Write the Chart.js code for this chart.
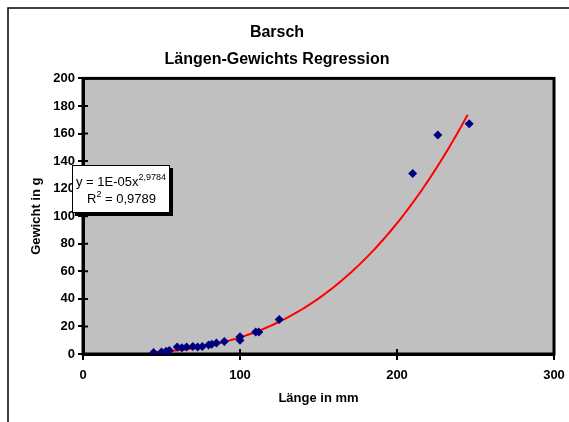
<!DOCTYPE html>
<html>
<head>
<meta charset="utf-8">
<script src="https://cdn.jsdelivr.net/npm/chart.js@4"></script>
<style>
  html, body { margin:0; padding:0; background:#fff; }
  #wrap { width:569px; height:422px; }
</style>
</head>
<body>
<div id="wrap"><canvas id="scatterChart" width="569" height="422"></canvas></div>
<script>
// === Daten ===
const lengthMm = [45, 50, 53, 55, 60, 63, 66, 70, 73, 76, 80, 82, 85, 90, 100, 100, 110, 112, 125, 210, 226, 246];
const weightG  = [1, 1.5, 2, 2.5, 5, 4.5, 5, 5.5, 5, 5.5, 6.5, 7, 8, 9, 12.5, 10, 16, 16, 25, 131, 159, 167];
const xTicks = [0, 100, 200, 300];
const yTicks = [0, 20, 40, 60, 80, 100, 120, 140, 160, 180, 200];

// Potenz-Trendlinie y = a * x^b (a im Label auf 1E-05 gerundet)
const trendA = 1.33e-5;
const trendB = 2.9784;
const trendText1 = 'y = 1E-05x';
const trendSup = '2,9784';
const trendText2 = 'R';
const trendText2b = ' = 0,9789';

const points = lengthMm.map((x, i) => ({ x: x, y: weightG[i] }));
const xMin = Math.min(...lengthMm), xMax = Math.max(...lengthMm);
const trend = [];
for (let x = xMin; x <= xMax; x += 2) trend.push({ x: x, y: trendA * Math.pow(x, trendB) });

const FONT = 'Liberation Sans, Arial, sans-serif';

// Hintergrund, Rahmen, Gleichungsbox
const deco = {
  id: 'deco',
  beforeDraw(chart) {
    const { ctx, chartArea: a } = chart;
    ctx.save();
    ctx.fillStyle = '#fff';
    ctx.fillRect(0, 0, chart.width, chart.height);
    ctx.strokeStyle = '#000';
    ctx.lineWidth = 1.5;
    ctx.beginPath();
    ctx.moveTo(8, chart.height); ctx.lineTo(8, 8); ctx.lineTo(chart.width, 8);
    ctx.stroke();
    ctx.fillStyle = '#c0c0c0';
    ctx.fillRect(a.left, a.top, a.right - a.left, a.bottom - a.top);
    ctx.restore();
  },
  beforeDatasetsDraw(chart) {
    const { ctx, chartArea: a, scales } = chart;
    ctx.save();
    ctx.strokeStyle = '#000';
    ctx.lineWidth = 3;
    ctx.strokeRect(a.left, a.top, a.right - a.left, a.bottom - a.top);
    // kurze Teilstriche nach innen
    ctx.lineWidth = 2;
    ctx.beginPath();
    yTicks.forEach(v => {
      const y = scales.y.getPixelForValue(v);
      ctx.moveTo(a.left, y); ctx.lineTo(a.left + 5, y);
    });
    xTicks.forEach(v => {
      const x = scales.x.getPixelForValue(v);
      ctx.moveTo(x, a.bottom); ctx.lineTo(x, a.bottom - 5);
    });
    ctx.stroke();
    ctx.restore();
  },
  afterDraw(chart) {
    const ctx = chart.ctx;
    ctx.save();
    ctx.fillStyle = '#000';
    ctx.fillRect(75, 168, 98, 48);
    ctx.fillStyle = '#fff';
    ctx.fillRect(72, 165, 98, 48);
    ctx.strokeStyle = '#000';
    ctx.lineWidth = 1;
    ctx.strokeRect(72.5, 165.5, 97, 47);
    ctx.fillStyle = '#000';
    ctx.textBaseline = 'alphabetic';
    ctx.font = '13px ' + FONT;
    ctx.fillText(trendText1, 76, 186);
    let w = ctx.measureText(trendText1).width;
    ctx.font = '9px ' + FONT;
    ctx.fillText(trendSup, 76 + w, 180);
    ctx.font = '13px ' + FONT;
    ctx.fillText(trendText2, 87, 203);
    w = ctx.measureText(trendText2).width;
    ctx.font = '9px ' + FONT;
    ctx.fillText('2', 87 + w, 197);
    const w2 = ctx.measureText('2').width;
    ctx.font = '13px ' + FONT;
    ctx.fillText(trendText2b, 87 + w + w2, 203);
    ctx.restore();
  }
};

new Chart(document.getElementById('scatterChart'), {
  type: 'scatter',
  data: {
    datasets: [
      { data: points, pointStyle: 'rectRot', pointRadius: 4.5, pointHoverRadius: 4.5,
        backgroundColor: '#000080', borderColor: '#000080', borderWidth: 0 },
      { type: 'line', data: trend, showLine: true, pointRadius: 0, borderColor: '#ff0000',
        borderWidth: 2, fill: false, tension: 0 }
    ]
  },
  options: {
    responsive: false,
    animation: false,
    layout: { padding: { left: 0, right: 15, top: 0, bottom: 0 } },
    plugins: {
      legend: { display: false },
      tooltip: { enabled: false },
      title: {
        display: true,
        text: ['Barsch', 'Längen-Gewichts Regression'],
        color: '#000',
        font: { family: FONT, size: 16, weight: 'bold', lineHeight: 1.7 },
        padding: { top: 19, bottom: 5 }
      }
    },
    scales: {
      x: {
        type: 'linear', min: 0, max: 300,
        afterBuildTicks: s => { s.ticks = xTicks.map(v => ({ value: v })); },
        afterFit: s => { s.height = 68; s.paddingLeft = 0; s.paddingRight = 0; },
        ticks: { color: '#000', font: { family: FONT, size: 13, weight: 'bold' }, padding: 8 },
        grid: { drawOnChartArea: false, tickLength: 6, color: '#000', lineWidth: 2 },
        border: { display: true, color: '#000', width: 3 },
        title: { display: true, text: 'Länge in mm', color: '#000',
                 font: { family: FONT, size: 13, weight: 'bold' }, padding: { top: 4, bottom: 16 } }
      },
      y: {
        type: 'linear', min: 0, max: 200,
        afterBuildTicks: s => { s.ticks = yTicks.map(v => ({ value: v })); },
        afterFit: s => { s.width = 83; },
        ticks: { color: '#000', font: { family: FONT, size: 13, weight: 'bold' }, padding: 3 },
        grid: { drawOnChartArea: false, tickLength: 5, color: '#000', lineWidth: 2 },
        border: { display: true, color: '#000', width: 3 },
        title: { display: true, text: 'Gewicht in g', color: '#000',
                 font: { family: FONT, size: 13, weight: 'bold' }, padding: { top: 29, bottom: 0 } }
      }
    }
  },
  plugins: [deco]
});
</script>
</body>
</html>
